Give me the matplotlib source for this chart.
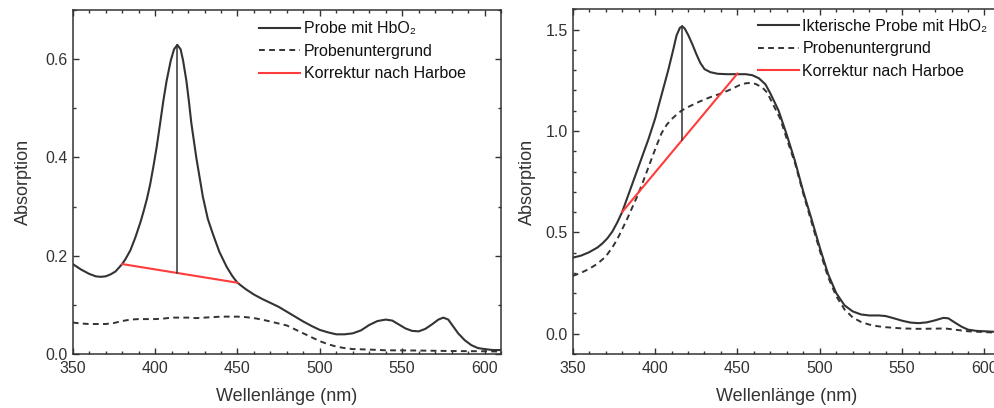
import matplotlib
matplotlib.use("Agg")
import matplotlib.pyplot as plt
from matplotlib.ticker import MultipleLocator

plt.rcParams['font.family'] = ['Liberation Sans', 'DejaVu Sans']

# left panel: sample with HbO2
wl_a = [350, 355, 360, 364, 367, 370, 373, 376, 380, 382, 385, 388, 391, 393, 395, 397,
        399, 401, 403, 405, 407, 409.5, 411.5, 413.5, 415.5, 417, 419, 420.5, 422, 425,
        429, 432, 435, 439, 443.5, 447, 450, 455, 460, 465, 470, 475, 480, 485, 490, 495,
        500, 505, 510, 515, 520, 525, 530, 535, 540, 544, 548, 552, 556, 560, 564, 568,
        572, 575, 578, 581, 584, 588, 592, 596, 600, 605, 610]
probe_a = [0.183, 0.172, 0.163, 0.158, 0.157, 0.158, 0.162, 0.168, 0.183, 0.193, 0.211,
           0.237, 0.267, 0.290, 0.315, 0.345, 0.382, 0.422, 0.468, 0.515, 0.556, 0.597,
           0.620, 0.629, 0.620, 0.597, 0.556, 0.515, 0.470, 0.400, 0.320, 0.275, 0.245,
           0.208, 0.177, 0.158, 0.145, 0.132, 0.121, 0.112, 0.104, 0.096, 0.086, 0.076,
           0.066, 0.057, 0.049, 0.044, 0.040, 0.040, 0.042, 0.048, 0.059, 0.067, 0.070,
           0.068, 0.060, 0.052, 0.047, 0.046, 0.051, 0.060, 0.070, 0.074, 0.070, 0.056,
           0.042, 0.028, 0.018, 0.012, 0.010, 0.008, 0.008]
wl_a_bg = [350, 355, 360, 370, 375, 380, 385, 390, 400, 405, 410, 420, 425, 430, 440,
           450, 455, 460, 465, 470, 475, 480, 485, 490, 495, 500, 505, 510, 515, 520,
           530, 540, 560, 580, 600, 610]
bg_a = [0.064, 0.062, 0.061, 0.061, 0.063, 0.067, 0.070, 0.071, 0.071, 0.072, 0.074,
        0.074, 0.073, 0.074, 0.076, 0.076, 0.075, 0.073, 0.070, 0.066, 0.062, 0.058,
        0.050, 0.042, 0.034, 0.026, 0.020, 0.015, 0.012, 0.010, 0.009, 0.0075, 0.007,
        0.006, 0.0055, 0.005]
harboe_a_x = [380, 450]
harboe_a_y = [0.183, 0.145]
peak_a_x = 413.5
peak_a_top, peak_a_base = 0.629, 0.164

# right panel: icteric sample with HbO2
wl_b = [350, 355, 360, 365, 368, 371, 374, 377, 380, 384, 388, 392, 396, 400, 404, 408,
        411, 413, 415, 416.5, 418, 420, 422.5, 425, 427.5, 430, 433.5, 438, 443.5, 450,
        455, 459, 463, 467, 470, 475, 480, 485, 490, 495, 500, 505, 510, 515, 520, 525,
        530, 536, 540, 545, 550, 555, 560, 565, 570, 575, 578, 582, 586, 590, 595, 600,
        605, 610]
probe_b = [0.375, 0.385, 0.402, 0.425, 0.445, 0.470, 0.503, 0.548, 0.600, 0.690, 0.780,
           0.870, 0.960, 1.060, 1.180, 1.300, 1.400, 1.470, 1.508, 1.516, 1.505, 1.475,
           1.430, 1.380, 1.335, 1.305, 1.290, 1.282, 1.280, 1.280, 1.280, 1.275, 1.260,
           1.230, 1.185, 1.100, 0.980, 0.850, 0.700, 0.565, 0.425, 0.295, 0.200, 0.140,
           0.110, 0.095, 0.090, 0.090, 0.087, 0.076, 0.064, 0.055, 0.052, 0.056, 0.066,
           0.078, 0.076, 0.055, 0.035, 0.020, 0.014, 0.012, 0.010, 0.008]
wl_b_bg = [350, 355, 360, 365, 370, 374, 377, 380, 383, 386, 389, 392, 395, 398, 401,
           404, 407, 410, 413, 416, 420, 427, 433, 440, 446, 451, 455, 458, 461, 465,
           468, 472, 476, 480, 485, 490, 495, 500, 505, 510, 515, 520, 525, 530, 535,
           540, 550, 560, 570, 576, 582, 590, 600, 610]
bg_b = [0.285, 0.300, 0.320, 0.345, 0.380, 0.425, 0.465, 0.515, 0.565, 0.620, 0.675,
        0.735, 0.800, 0.865, 0.930, 0.990, 1.030, 1.058, 1.080, 1.100, 1.118, 1.145,
        1.165, 1.185, 1.205, 1.225, 1.235, 1.237, 1.232, 1.215, 1.190, 1.125, 1.060,
        0.960, 0.840, 0.690, 0.550, 0.410, 0.280, 0.185, 0.120, 0.080, 0.058, 0.045,
        0.037, 0.032, 0.026, 0.024, 0.025, 0.026, 0.020, 0.012, 0.008, 0.004]
harboe_b_x = [380, 450]
harboe_b_y = [0.600, 1.283]
peak_b_x = 416.5
peak_b_top, peak_b_base = 1.516, 0.957

ink = '#333333'
red = '#ff3b3b'

fig = plt.figure(figsize=(9.95, 4.08), dpi=100)
ax1 = fig.add_axes([0.0731, 0.1324, 0.4304, 0.8431])
ax2 = fig.add_axes([0.5756, 0.1324, 0.4304, 0.8448])


def style_axes(ax, ypad):
    ax.set_xlim(350, 610)
    ax.xaxis.set_major_locator(MultipleLocator(50))
    ax.xaxis.set_minor_locator(MultipleLocator(10))
    ax.tick_params(which='both', direction='in', top=True, right=True,
                   colors=ink, labelsize=11.5, width=1)
    ax.tick_params(which='major', length=4)
    ax.tick_params(which='minor', length=2.5)
    ax.tick_params(axis='x', which='both', pad=5)
    for s in ax.spines.values():
        s.set_color(ink)
        s.set_linewidth(1.1)
    ax.set_xlabel('Wellenlänge (nm)', fontsize=13, color=ink, labelpad=8.5)
    ax.set_ylabel('Absorption', fontsize=13, color=ink, labelpad=ypad)


ax1.plot(wl_a, probe_a, color=ink, lw=1.5, label='Probe mit HbO₂')
ax1.plot(wl_a_bg, bg_a, color=ink, lw=1.4, ls=(0, (3, 2.2)), label='Probenuntergrund')
ax1.plot(harboe_a_x, harboe_a_y, color=red, lw=1.5, label='Korrektur nach Harboe')
ax1.plot([peak_a_x, peak_a_x], [peak_a_base, peak_a_top], color=ink, lw=1.1)
style_axes(ax1, 10)
ax1.set_ylim(0, 0.7)
ax1.yaxis.set_major_locator(MultipleLocator(0.2))
ax1.yaxis.set_minor_locator(MultipleLocator(0.1))
ax1.legend(loc='upper left', bbox_to_anchor=(0.416, 0.99), frameon=False,
           fontsize=11.5, handlelength=2.6, handletextpad=0.2, labelspacing=0.46,
           borderpad=0, labelcolor='#111111')

ax2.plot(wl_b, probe_b, color=ink, lw=1.5, label='Ikterische Probe mit HbO₂')
ax2.plot(wl_b_bg, bg_b, color=ink, lw=1.4, ls=(0, (3, 2.2)), label='Probenuntergrund')
ax2.plot(harboe_b_x, harboe_b_y, color=red, lw=1.5, label='Korrektur nach Harboe')
ax2.plot([peak_b_x, peak_b_x], [peak_b_base, peak_b_top], color=ink, lw=1.1)
style_axes(ax2, 7)
ax2.set_ylim(-0.1, 1.6)
ax2.yaxis.set_major_locator(MultipleLocator(0.5))
ax2.yaxis.set_minor_locator(MultipleLocator(0.1))
ax2.legend(loc='upper left', bbox_to_anchor=(0.413, 0.995), frameon=False,
           fontsize=11.5, handlelength=2.6, handletextpad=0.2, labelspacing=0.46,
           borderpad=0, labelcolor='#111111')

fig.savefig('out.png', dpi=100)
